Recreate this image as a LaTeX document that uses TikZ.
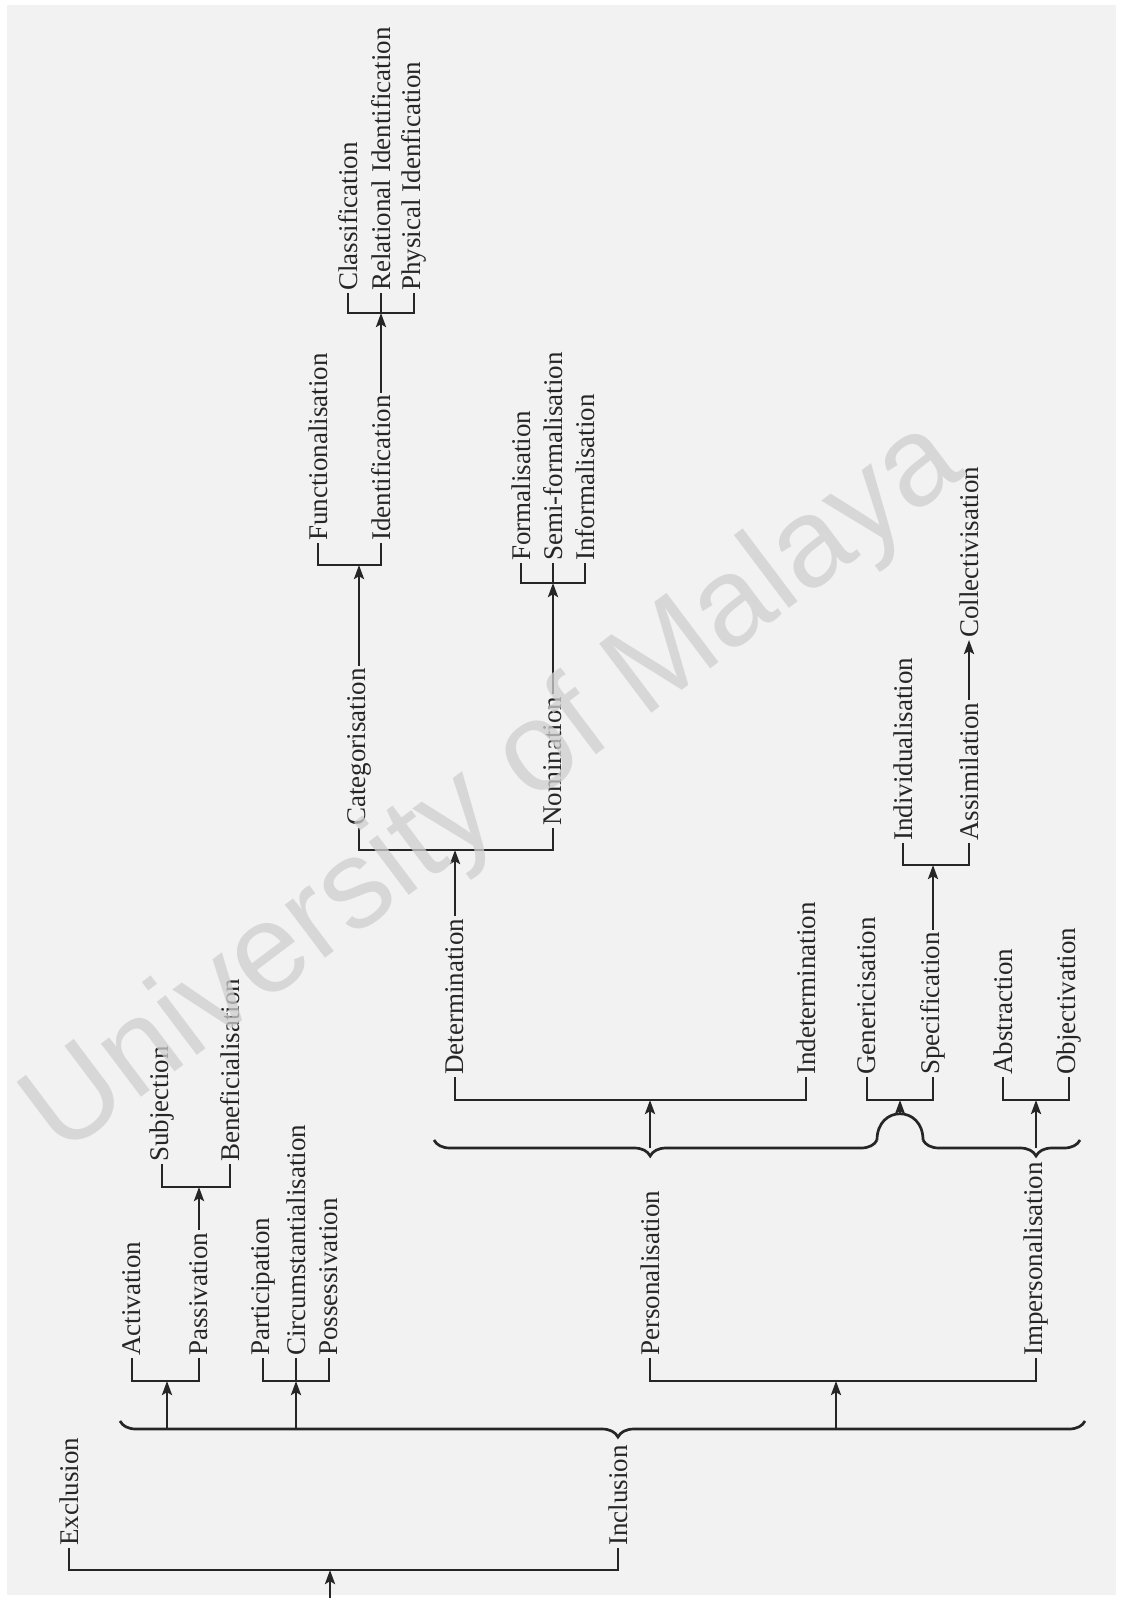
\documentclass[tikz,border=0pt]{standalone}
\usepackage{fontspec}
\setmainfont{Liberation Serif}
\newfontfamily\wmfont{Liberation Sans}
\usetikzlibrary{arrows.meta,decorations.pathreplacing}
\definecolor{ink}{HTML}{262626}
\definecolor{paper}{HTML}{F2F2F2}
\definecolor{stamp}{HTML}{CFCFCF}

\begin{document}
\begin{tikzpicture}[
    x=0.5pt, y=-0.5pt,
    lbl/.style={rotate=90, anchor=west, inner sep=1pt, text=ink, font=\fontsize{13.5}{15}\selectfont},
    bar/.style={draw=ink, line width=1.35pt},
    link/.style={-{Stealth[length=7pt,width=5pt,inset=1.4pt]}, draw=ink, line width=1.35pt},
    brc/.style={draw=ink, line width=1.35pt, decorate, decoration={brace, amplitude=8pt, aspect=#1}}
]
\useasboundingbox (0,0) rectangle (1120,1598);
\fill[white] (0,0) rectangle (1120,1598);
\fill[paper] (7,5) rectangle (1116,1595);

% labels
\node[lbl] (excl) at (69,1548) {Exclusion};
\node[lbl] (incl) at (618,1548) {Inclusion};
\node[lbl] (act) at (132,1358) {Activation};
\node[lbl] (pass) at (199,1358) {Passivation};
\node[lbl] (subj) at (162,1164) {Subjection};
\node[lbl] (bene) at (230,1164) {Beneficialisation};
\node[lbl] (part) at (263,1358) {Participation};
\node[lbl] (circ) at (296,1358) {Circumstantialisation};
\node[lbl] (poss) at (329,1358) {Possessivation};
\node[lbl] (pers) at (650,1358) {Personalisation};
\node[lbl] (imp) at (1036,1358) {Impersonalisation};
\node[lbl] (det) at (455,1077) {Determination};
\node[lbl] (indet) at (806,1077) {Indetermination};
\node[lbl] (gen) at (867,1077) {Genericisation};
\node[lbl] (spec) at (933,1077) {Specification};
\node[lbl] (abs) at (1003,1077) {Abstraction};
\node[lbl] (obj) at (1069,1077) {Objectivation};
\node[lbl] (indiv) at (903,843) {Individualisation};
\node[lbl] (assim) at (969,843) {Assimilation};
\node[lbl] (coll) at (969,640) {Collectivisation};
\node[lbl] (cat) at (359,828) {Categorisation};
\node[lbl] (nom) at (553,828) {Nomination};
\node[lbl] (form) at (521,563) {Formalisation};
\node[lbl] (semi) at (553,563) {Semi-formalisation};
\node[lbl] (inform) at (585,563) {Informalisation};
\node[lbl] (func) at (318,543) {Functionalisation};
\node[lbl] (ident) at (381,543) {Identification};
\node[lbl] (class) at (348,293) {Classification};
\node[lbl] (rel) at (381,293) {Relational Identification};
\node[lbl] (phys) at (414,293) {Physical Idenfication};

% bars and brace points
\coordinate (rootin) at (330,1598);
\coordinate (rootbar) at (330,1570);
\coordinate (b1r) at (1085,1421);
\coordinate (b1l) at (120,1421);
\coordinate (b1act) at (167,1429);
\coordinate (b1part) at (296,1429);
\coordinate (b1pers) at (836,1429);
\coordinate (actbar) at (167,1381);
\coordinate (partbar) at (296,1381);
\coordinate (persbar) at (836,1381);
\coordinate (sbbar) at (199,1187);
\coordinate (b2r) at (877,1140);
\coordinate (b2l) at (434,1140);
\coordinate (b3r) at (1080,1140);
\coordinate (b3l) at (923,1140);
\coordinate (b2tip) at (650,1148);
\coordinate (b3tip) at (1036,1148);
\coordinate (hump) at (900,1114);
\coordinate (detbar) at (650,1100);
\coordinate (gsbar) at (900,1100);
\coordinate (aobar) at (1036,1100);
\coordinate (iabar) at (933,865);
\coordinate (cnbar) at (455,850);
\coordinate (fbar) at (553,583);
\coordinate (fibar) at (359,565);
\coordinate (crbar) at (381,313);

% brackets
\draw[bar] (excl.west) |- (rootbar) -| (incl.west);
\draw[bar] (act.west) |- (actbar) -| (pass.west);
\draw[bar] (part.west) |- (partbar) -| (poss.west);
\draw[bar] (circ.west) -- (partbar);
\draw[bar] (pers.west) |- (persbar) -| (imp.west);
\draw[bar] (subj.west) |- (sbbar) -| (bene.west);
\draw[bar] (det.west) |- (detbar) -| (indet.west);
\draw[bar] (gen.west) |- (gsbar) -| (spec.west);
\draw[bar] (abs.west) |- (aobar) -| (obj.west);
\draw[bar] (indiv.west) |- (iabar) -| (assim.west);
\draw[bar] (cat.west) |- (cnbar) -| (nom.west);
\draw[bar] (form.west) |- (fbar) -| (inform.west);
\draw[bar] (semi.west) -- (fbar);
\draw[bar] (func.west) |- (fibar) -| (ident.west);
\draw[bar] (class.west) |- (crbar) -| (phys.west);
\draw[bar] (rel.west) -- (crbar);

% braces
\draw[brc=0.484] (b1r) -- (b1l);
\draw[brc=0.512] (b2r) -- (b2l);
\draw[brc=0.28] (b3r) -- (b3l);
\draw[bar] (b2r) .. controls (877,1105) and (923,1105) .. (b3l);

% arrows
\draw[link] (rootin) -- (rootbar);
\draw[link] (b1act) -- (actbar);
\draw[link] (b1part) -- (partbar);
\draw[link] (b1pers) -- (persbar);
\draw[link] (pass.east) -- (sbbar);
\draw[link] (b2tip) -- (detbar);
\draw[link] (hump) -- (gsbar);
\draw[link] (b3tip) -- (aobar);
\draw[link] (spec.east) -- (iabar);
\draw[link] (assim.east) -- (coll.west);
\draw[link] (det.east) -- (cnbar);
\draw[link] (nom.east) -- (fbar);
\draw[link] (cat.east) -- (fibar);
\draw[link] (ident.east) -- (crbar);

% watermark
\node[rotate=37, text=stamp, opacity=0.75, font=\wmfont\fontsize{63}{63}\selectfont] (wm) at (495,790) {University of Malaya};
\end{tikzpicture}
\end{document}
